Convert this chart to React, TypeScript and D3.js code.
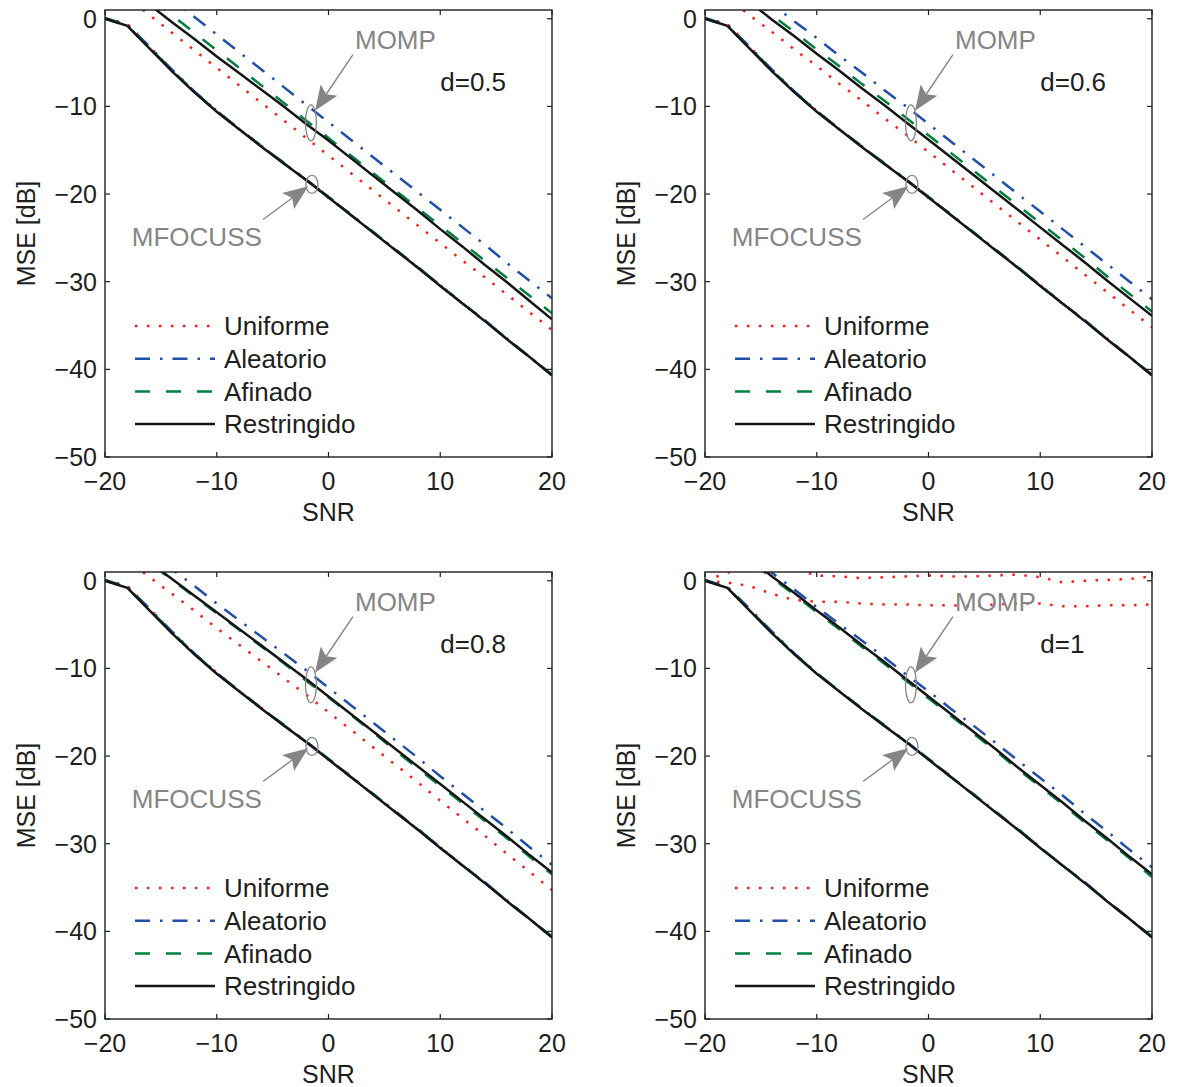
import React from 'react';
import * as d3 from 'd3';

// ---------- data ----------
const SNR = [-20, -18, -16, -14, -12, -10, -8, -6, -4, -2, 0, 2, 4, 6, 8, 10, 12, 14, 16, 18, 20];
const xTicks = [-20, -10, 0, 10, 20];
const yTicks = [-50, -40, -30, -20, -10, 0];
const dLabels = ['d=0.5', 'd=0.6', 'd=0.8', 'd=1'];
const methodNames = ['Uniforme', 'Aleatorio', 'Afinado', 'Restringido'];

// MFOCUSS curves (lower group)
const mfocussUniforme = [0.1, -0.6, -3.2, -5.9, -8.4, -10.5, -12.6, -14.5, -16.5, -18.4, -20.4, -22.3, -24.4, -26.4, -28.4, -30.4, -32.5, -34.5, -36.5, -38.6, -40.7];
const mfocussUniformeD1 = [0.0, -0.2, -0.6, -1.5, -2.2, -2.4, -2.4, -2.6, -2.7, -2.7, -2.8, -2.8, -2.9, -2.7, -2.6, -2.6, -2.9, -2.9, -2.8, -2.8, -2.7];
const mfocussAleatorio = [0.1, -0.7, -3.2, -5.8, -8.3, -10.5, -12.6, -14.5, -16.5, -18.3, -20.4, -22.3, -24.4, -26.3, -28.4, -30.4, -32.5, -34.4, -36.6, -38.6, -40.6];
const mfocussAfinado = [0.0, -0.8, -3.3, -5.9, -8.3, -10.6, -12.5, -14.6, -16.4, -18.4, -20.3, -22.4, -24.3, -26.4, -28.3, -30.5, -32.4, -34.5, -36.5, -38.6, -40.6];
const mfocussRestringido = [0.0, -0.8, -3.4, -6.0, -8.4, -10.6, -12.6, -14.6, -16.5, -18.4, -20.4, -22.4, -24.4, -26.4, -28.4, -30.5, -32.5, -34.5, -36.6, -38.6, -40.7];

// MOMP curves (upper group)
const mompUniforme05 = [4.4, 2.4, 0.4, -1.6, -3.6, -5.6, -7.6, -9.6, -11.6, -13.6, -15.6, -17.6, -19.6, -21.6, -23.6, -25.6, -27.6, -29.5, -31.5, -33.5, -35.5];
const mompAleatorio05 = [8.2, 6.2, 4.2, 2.2, 0.2, -1.8, -3.8, -5.8, -7.8, -9.8, -11.8, -13.8, -15.8, -17.8, -19.8, -21.8, -23.8, -25.8, -27.9, -29.9, -31.9];
const mompAfinado05 = [6.4, 4.4, 2.4, 0.4, -1.6, -3.6, -5.6, -7.6, -9.6, -11.6, -13.6, -15.6, -17.6, -19.6, -21.6, -23.6, -25.6, -27.6, -29.6, -31.6, -33.6];
const mompRestringido05 = [5.5, 3.5, 1.6, -0.4, -2.3, -4.3, -6.2, -8.1, -10.0, -12.0, -13.9, -15.9, -17.9, -19.9, -21.9, -24.0, -26.0, -28.1, -30.1, -32.2, -34.3];

const mompUniforme06 = [4.3, 2.4, 0.4, -1.5, -3.5, -5.4, -7.4, -9.3, -11.3, -13.2, -15.2, -17.2, -19.2, -21.2, -23.2, -25.2, -27.2, -29.2, -31.2, -33.2, -35.2];
const mompAleatorio06 = [7.5, 5.6, 3.6, 1.7, -0.3, -2.2, -4.2, -6.1, -8.1, -10.0, -12.0, -14.0, -16.0, -18.0, -20.0, -22.0, -24.0, -26.0, -28.0, -30.0, -32.0];
const mompAfinado06 = [6.3, 4.3, 2.4, 0.4, -1.5, -3.5, -5.4, -7.4, -9.3, -11.3, -13.3, -15.3, -17.3, -19.3, -21.3, -23.3, -25.3, -27.3, -29.4, -31.4, -33.4];
const mompRestringido06 = [5.8, 3.8, 1.9, -0.1, -2.0, -4.0, -5.9, -7.9, -9.8, -11.8, -13.8, -15.8, -17.8, -19.8, -21.8, -23.8, -25.8, -27.8, -29.9, -31.9, -33.9];

const mompUniforme08 = [4.3, 2.3, 0.4, -1.5, -3.4, -5.4, -7.3, -9.2, -11.1, -13.0, -15.0, -17.0, -19.0, -21.0, -23.0, -25.1, -27.1, -29.1, -31.2, -33.2, -35.3];
const mompAleatorio08 = [7.1, 5.2, 3.2, 1.3, -0.6, -2.6, -4.5, -6.4, -8.3, -10.2, -12.2, -14.2, -16.2, -18.2, -20.2, -22.3, -24.3, -26.3, -28.3, -30.4, -32.4];
const mompAfinado08 = [5.9, 4.0, 2.0, 0.1, -1.8, -3.7, -5.6, -7.5, -9.4, -11.4, -13.3, -15.3, -17.3, -19.4, -21.4, -23.4, -25.4, -27.4, -29.4, -31.5, -33.5];
const mompRestringido08 = [6.0, 4.1, 2.1, 0.2, -1.7, -3.6, -5.5, -7.4, -9.3, -11.2, -13.2, -15.2, -17.2, -19.2, -21.2, -23.2, -25.2, -27.2, -29.2, -31.3, -33.3];

const mompUniforme1 = [0.0, 0.9, 1.8, 2.0, 1.4, 0.6, 0.5, 0.3, 0.4, 0.5, 0.6, 0.5, 0.5, 0.6, 0.7, 0.4, -0.2, 0.0, 0.1, 0.2, 0.5];
const mompAleatorio1 = [6.8, 4.8, 2.9, 0.9, -1.0, -3.0, -4.9, -6.8, -8.7, -10.7, -12.6, -14.6, -16.5, -18.5, -20.5, -22.5, -24.5, -26.6, -28.6, -30.7, -32.7];
const mompAfinado1 = [6.2, 4.2, 2.3, 0.3, -1.6, -3.6, -5.5, -7.5, -9.4, -11.4, -13.4, -15.4, -17.4, -19.4, -21.5, -23.5, -25.5, -27.6, -29.6, -31.7, -33.8];
const mompRestringido1 = [6.4, 4.4, 2.5, 0.5, -1.4, -3.4, -5.3, -7.3, -9.2, -11.2, -13.2, -15.2, -17.2, -19.2, -21.3, -23.3, -25.3, -27.4, -29.4, -31.5, -33.5];

// annotation anchors (data coordinates)
const mompLabelPos = [2.37, -3.4];
const mfocussLabelPos = [-17.6, -25.9];
const dLabelPos = [10.0, -8.2];
const mompEllipse = [-1.57, -11.87, 0.49, 2.05];
const mfocussEllipse = [-1.48, -18.9, 0.54, 1.03];
const mompArrow = [2.19, -4.1, -1.21, -10.5];
const mfocussArrow = [-5.86, -22.9, -1.81, -19.1];

// ---------- styles ----------
const styles = [
  { color: '#ff1a1a', dash: '2.5 9.5', width: 2.5 },
  { color: '#1f4fa8', dash: '15 10 2.5 10', width: 2.5 },
  { color: '#00803c', dash: '15 16', width: 2.5 },
  { color: '#151515', dash: undefined, width: 2.5 },
];

const panelsData = [
  { momp: [mompUniforme05, mompAleatorio05, mompAfinado05, mompRestringido05], mf: [mfocussUniforme, mfocussAleatorio, mfocussAfinado, mfocussRestringido] },
  { momp: [mompUniforme06, mompAleatorio06, mompAfinado06, mompRestringido06], mf: [mfocussUniforme, mfocussAleatorio, mfocussAfinado, mfocussRestringido] },
  { momp: [mompUniforme08, mompAleatorio08, mompAfinado08, mompRestringido08], mf: [mfocussUniforme, mfocussAleatorio, mfocussAfinado, mfocussRestringido] },
  { momp: [mompUniforme1, mompAleatorio1, mompAfinado1, mompRestringido1], mf: [mfocussUniformeD1, mfocussAleatorio, mfocussAfinado, mfocussRestringido] },
];

const FONT = '"Liberation Sans", Arial, Helvetica, sans-serif';
const AX = '#1e1e1e';
const GRAY = '#858585';
const W = 447;
const H = 447;

function Arrow({ x1, y1, x2, y2 }: { x1: number; y1: number; x2: number; y2: number }) {
  const dx = x2 - x1, dy = y2 - y1;
  const len = Math.hypot(dx, dy);
  const ux = dx / len, uy = dy / len;
  const nx = -uy, ny = ux;
  const L = 25, Wd = 10, inset = 5;
  const bx = x2 - ux * L, by = y2 - uy * L;
  const ix = x2 - ux * (L - inset), iy = y2 - uy * (L - inset);
  const pts = [
    [x2, y2],
    [bx + nx * Wd, by + ny * Wd],
    [ix, iy],
    [bx - nx * Wd, by - ny * Wd],
  ];
  return (
    <g>
      <line x1={x1} y1={y1} x2={ix} y2={iy} stroke={GRAY} strokeWidth={1.4} />
      <polygon points={pts.map((p) => p.join(',')).join(' ')} fill={GRAY} />
    </g>
  );
}

function Panel({ idx, left, top }: { idx: number; left: number; top: number }) {
  const x = d3.scaleLinear().domain([-20, 20]).range([left, left + W]);
  const y = d3.scaleLinear().domain([-50, 1]).range([top + H, top]);
  const line = d3
    .line<number>()
    .x((_, i) => x(SNR[i]))
    .y((d) => y(d));
  const data = panelsData[idx];
  const clipId = `clip${idx}`;
  const tick = 5;

  const ell = (e: number[]) => ({
    cx: x(e[0]),
    cy: y(e[1]),
    rx: x(e[0] + e[2]) - x(e[0]),
    ry: y(e[1] - e[3]) - y(e[1]),
  });
  const e1 = ell(mompEllipse);
  const e2 = ell(mfocussEllipse);

  return (
    <g>
      <defs>
        <clipPath id={clipId}>
          <rect x={left} y={top} width={W} height={H} />
        </clipPath>
      </defs>
      <g clipPath={`url(#${clipId})`}>
        {[0, 1, 2, 3].map((m) => (
          <g key={m}>
            <path d={line(data.mf[m]) || ''} fill="none" stroke={styles[m].color} strokeWidth={styles[m].width} strokeDasharray={styles[m].dash} />
            <path d={line(data.momp[m]) || ''} fill="none" stroke={styles[m].color} strokeWidth={styles[m].width} strokeDasharray={styles[m].dash} />
          </g>
        ))}
      </g>
      {/* box */}
      <rect x={left} y={top} width={W} height={H} fill="none" stroke={AX} strokeWidth={1.4} />
      {xTicks.map((t) => (
        <g key={'x' + t}>
          <line x1={x(t)} x2={x(t)} y1={top + H} y2={top + H - tick} stroke={AX} strokeWidth={1.2} />
          <line x1={x(t)} x2={x(t)} y1={top} y2={top + tick} stroke={AX} strokeWidth={1.2} />
          <text x={x(t)} y={top + H + 33} textAnchor="middle" fontSize={25} fontFamily={FONT} fill={AX}>
            {t < 0 ? '\u2212' + Math.abs(t) : String(t)}
          </text>
        </g>
      ))}
      {yTicks.map((t) => (
        <g key={'y' + t}>
          <line x1={left} x2={left + tick} y1={y(t)} y2={y(t)} stroke={AX} strokeWidth={1.2} />
          <line x1={left + W} x2={left + W - tick} y1={y(t)} y2={y(t)} stroke={AX} strokeWidth={1.2} />
          <text x={left - 8} y={y(t)} dy="0.36em" textAnchor="end" fontSize={25} fontFamily={FONT} fill={AX}>
            {t < 0 ? '\u2212' + Math.abs(t) : String(t)}
          </text>
        </g>
      ))}
      <text x={(left + left + W) / 2} y={top + H + 64} textAnchor="middle" fontSize={25} fontFamily={FONT} fill={AX}>
        SNR
      </text>
      <text
        transform={`translate(${left - 70},${top + H / 2}) rotate(-90)`}
        textAnchor="middle"
        fontSize={25}
        fontFamily={FONT}
        fill={AX}
      >
        MSE [dB]
      </text>

      {/* legend */}
      {methodNames.map((name, m) => {
        const ly = top + 316 + m * 32.7;
        const lx = left + 30;
        return (
          <g key={name}>
            <line x1={lx} x2={lx + 80} y1={ly} y2={ly} stroke={styles[m].color} strokeWidth={styles[m].width} strokeDasharray={styles[m].dash} />
            <text x={lx + 89} y={ly} dy="0.36em" fontSize={26} fontFamily={FONT} fill={AX}>
              {name}
            </text>
          </g>
        );
      })}

      {/* annotations */}
      <ellipse cx={e1.cx} cy={e1.cy} rx={e1.rx} ry={e1.ry} fill="none" stroke={GRAY} strokeWidth={1.3} />
      <ellipse cx={e2.cx} cy={e2.cy} rx={e2.rx} ry={e2.ry} fill="none" stroke={GRAY} strokeWidth={1.3} />
      <Arrow x1={x(mompArrow[0])} y1={y(mompArrow[1])} x2={x(mompArrow[2])} y2={y(mompArrow[3])} />
      <Arrow x1={x(mfocussArrow[0])} y1={y(mfocussArrow[1])} x2={x(mfocussArrow[2])} y2={y(mfocussArrow[3])} />
      <text x={x(mompLabelPos[0])} y={y(mompLabelPos[1])} fontSize={26} fontFamily={FONT} fill={GRAY}>
        MOMP
      </text>
      <text x={x(mfocussLabelPos[0])} y={y(mfocussLabelPos[1])} fontSize={26} fontFamily={FONT} fill={GRAY}>
        MFOCUSS
      </text>
      <text x={x(dLabelPos[0])} y={y(dLabelPos[1])} fontSize={26} fontFamily={FONT} fill={AX}>
        {dLabels[idx]}
      </text>
    </g>
  );
}

export default function App() {
  return (
    <svg
      width={1177}
      height={1087}
      style={{ position: 'absolute', left: 0, top: 0, background: '#fff' }}
      xmlns="http://www.w3.org/2000/svg"
    >
      <rect x={0} y={0} width={1177} height={1087} fill="#fff" />
      {[0, 1, 2, 3].map((i) => (
        <Panel key={i} idx={i} left={105 + (i % 2) * 600} top={10 + Math.floor(i / 2) * 562} />
      ))}
    </svg>
  );
}
